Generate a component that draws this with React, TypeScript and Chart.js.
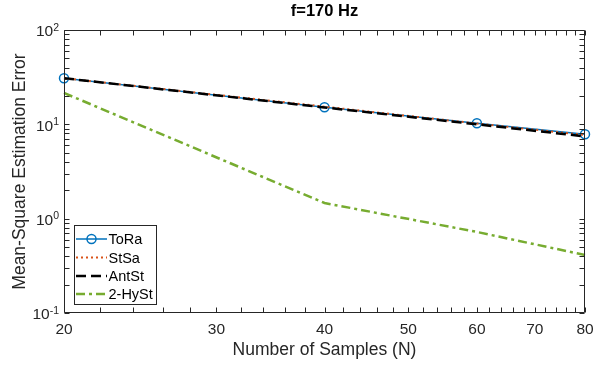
import React, { useEffect, useRef } from 'react';
import { Chart, registerables } from 'chart.js';

Chart.register(...registerables);

// ---- data ----
const samples = [20, 40, 60, 80];
const toRa = [30.8, 15.2, 10.26, 7.84];
const stSa = [30.8, 15.4, 10.2, 7.7];
const antSt = [30.8, 15.1, 10.0, 7.45];
const hySt = [21.5, 1.466, 0.723, 0.412];
const seriesNames = ['ToRa', 'StSa', 'AntSt', '2-HySt'];
const xTicks = [20, 30, 40, 50, 60, 70, 80];
const xMinorTicks = [22, 24, 26, 28, 32, 34, 36, 38, 42, 44, 46, 48, 52, 54, 56, 58, 62, 64, 66, 68, 72, 74, 76, 78];
const yTicks = [0.1, 1, 10, 100];
const yTickExponents = ['-1', '0', '1', '2'];
const yMinorMultipliers = [2, 3, 4, 5, 6, 7, 8, 9];
const titleText = 'f=170 Hz';
const xTitle = 'Number of Samples (N)';
const yTitle = 'Mean-Square Estimation Error';

// ---- styles ----
const AXIS = '#262626';
const FONT = "'Liberation Sans', Arial, Helvetica, sans-serif";
const BLUE = '#0072BD';
const ORANGE = '#D95319';
const BLACK = '#000000';
const GREEN = '#77AC30';

const styles = [
  { color: BLUE, width: 1.5, dash: [] as number[], marker: true },
  { color: ORANGE, width: 2, dash: [2, 3], marker: false },
  { color: BLACK, width: 2.5, dash: [10, 5], marker: false },
  { color: GREEN, width: 2.5, dash: [9, 4, 3, 4], marker: false },
];

const decorPlugin = {
  id: 'decor',
  afterDraw(chart: any) {
    const { ctx, chartArea } = chart;
    const { left, right, top, bottom } = chartArea;
    const xs = chart.scales.x;
    const ys = chart.scales.y;
    const L = Math.round(left) + 0.5;
    const R = Math.round(right) - 0.5;
    const T = Math.round(top) + 0.5;
    const B = Math.round(bottom) - 0.5;
    ctx.save();
    ctx.strokeStyle = AXIS;
    ctx.lineWidth = 1;
    ctx.setLineDash([]);
    ctx.beginPath();
    ctx.moveTo(L, T); ctx.lineTo(R, T); ctx.lineTo(R, B); ctx.lineTo(L, B); ctx.closePath();
    ctx.stroke();
    const tl = 5;
    ctx.beginPath();
    [...xTicks, ...xMinorTicks].forEach((v) => {
      const px = Math.round(xs.getPixelForValue(v)) + 0.5;
      ctx.moveTo(px, B); ctx.lineTo(px, B - tl);
      ctx.moveTo(px, T); ctx.lineTo(px, T + tl);
    });
    const yAll: number[] = [...yTicks];
    yTicks.forEach((d) => { if (d < 100) yMinorMultipliers.forEach((m) => yAll.push(d * m)); });
    yAll.forEach((v) => {
      const py = Math.round(ys.getPixelForValue(v)) + 0.5;
      ctx.moveTo(L, py); ctx.lineTo(L + tl, py);
      ctx.moveTo(R, py); ctx.lineTo(R - tl, py);
    });
    ctx.stroke();

    // y tick labels with superscript exponents
    ctx.fillStyle = AXIS;
    yTicks.forEach((v, i) => {
      const py = ys.getPixelForValue(v);
      const exp = yTickExponents[i];
      ctx.font = `10.5px ${FONT}`;
      const ew = ctx.measureText(exp).width;
      const rightEdge = left - 5;
      ctx.textAlign = 'left';
      ctx.textBaseline = 'alphabetic';
      ctx.fillText(exp, rightEdge - ew, py + 0.5);
      ctx.font = `15.5px ${FONT}`;
      ctx.textAlign = 'right';
      ctx.textBaseline = 'middle';
      ctx.fillText('10', rightEdge - ew, py + 2);
    });

    // title
    ctx.font = `bold 16.5px ${FONT}`;
    ctx.textAlign = 'center';
    ctx.textBaseline = 'middle';
    ctx.fillStyle = '#000000';
    ctx.fillText(titleText, (left + right) / 2, 11);

    // legend
    const bx = 74.5, by = 225.5, bw = 82, bh = 79;
    ctx.fillStyle = '#ffffff';
    ctx.fillRect(bx, by, bw, bh);
    ctx.strokeStyle = '#262626';
    ctx.lineWidth = 1;
    ctx.strokeRect(bx, by, bw, bh);
    const rowY = [239, 257.5, 276, 294];
    seriesNames.forEach((name, i) => {
      const st = styles[i];
      const y = rowY[i];
      ctx.strokeStyle = st.color;
      ctx.lineWidth = st.width;
      ctx.setLineDash(st.dash);
      ctx.beginPath();
      ctx.moveTo(76, y); ctx.lineTo(107, y);
      ctx.stroke();
      ctx.setLineDash([]);
      if (st.marker) {
        ctx.beginPath();
        ctx.arc(91.5, y, 4.5, 0, Math.PI * 2);
        ctx.stroke();
      }
      ctx.fillStyle = '#000000';
      ctx.font = `14.5px ${FONT}`;
      ctx.textAlign = 'left';
      ctx.textBaseline = 'middle';
      ctx.fillText(name, 108.5, y + 1);
    });
    ctx.restore();
  },
};

function makeDataset(label: string, values: number[], i: number) {
  const st = styles[i];
  return {
    label,
    data: samples.map((x, k) => ({ x, y: values[k] })),
    borderColor: st.color,
    backgroundColor: 'rgba(0,0,0,0)',
    borderWidth: st.width,
    borderDash: st.dash,
    pointRadius: st.marker ? 4.5 : 0,
    pointBorderWidth: 1.5,
    pointBorderColor: st.color,
    pointBackgroundColor: 'rgba(0,0,0,0)',
    pointHoverRadius: 0,
    tension: 0,
    fill: false,
    order: 4 - i,
    clip: 8,
  };
}

export default function App() {
  const ref = useRef<HTMLCanvasElement | null>(null);
  useEffect(() => {
    document.body.style.margin = '0';
    if (!ref.current) return;
    const chart = new Chart(ref.current, {
      type: 'line',
      data: {
        datasets: [
          makeDataset(seriesNames[0], toRa, 0),
          makeDataset(seriesNames[1], stSa, 1),
          makeDataset(seriesNames[2], antSt, 2),
          makeDataset(seriesNames[3], hySt, 3),
        ] as any,
      },
      options: {
        responsive: false,
        animation: false,
        devicePixelRatio: 1,
        layout: { padding: { left: 0, top: 30, right: 9, bottom: 0 } },
        plugins: {
          legend: { display: false },
          tooltip: { enabled: false },
          title: { display: false },
        },
        scales: {
          x: {
            type: 'logarithmic',
            min: 20,
            max: 80,
            afterBuildTicks: (s: any) => { s.ticks = xTicks.map((v) => ({ value: v })); },
            afterFit: (s: any) => { s.height = 52; s.paddingLeft = 0; s.paddingRight = 0; },
            grid: { display: false, drawTicks: false },
            border: { display: false },
            ticks: {
              autoSkip: false,
              maxRotation: 0,
              padding: 7,
              color: AXIS,
              font: { family: FONT, size: 15.5 },
              callback: (v: any) => String(v),
            },
            title: {
              display: true,
              text: xTitle,
              color: AXIS,
              font: { family: FONT, size: 17.5 },
              padding: { top: 0, bottom: 4 },
            },
          },
          y: {
            type: 'logarithmic',
            min: 0.1,
            max: 100,
            afterBuildTicks: (s: any) => { s.ticks = yTicks.map((v) => ({ value: v })); },
            afterFit: (s: any) => { s.width = 64; s.paddingTop = 0; s.paddingBottom = 0; },
            grid: { display: false, drawTicks: false },
            border: { display: false },
            ticks: { display: false },
            title: {
              display: true,
              text: yTitle,
              color: AXIS,
              font: { family: FONT, size: 17.5 },
              padding: { top: 10, bottom: 0 },
            },
          },
        },
      } as any,
      plugins: [decorPlugin],
    });
    return () => chart.destroy();
  }, []);
  return <canvas ref={ref} width={594} height={365} style={{ display: 'block' }} />;
}
